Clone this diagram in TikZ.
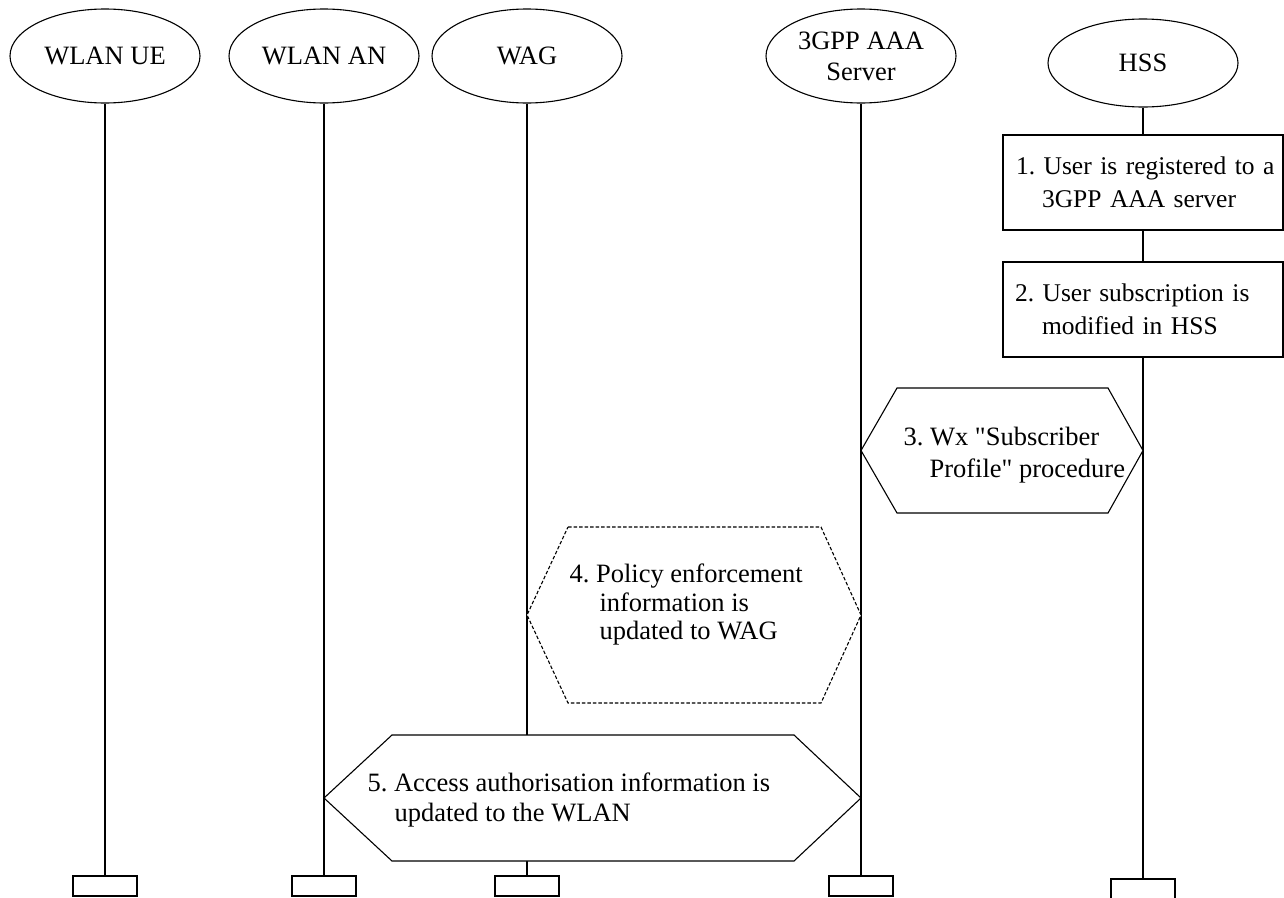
\documentclass[tikz,border=0pt]{standalone}
\usepackage{fontspec}
\setmainfont{Liberation Serif}[Ligatures=TeXOff]
\usetikzlibrary{shapes.geometric}
\frenchspacing
\tikzset{
  entity/.style={draw,ellipse,minimum width=190pt,minimum height=94pt,inner sep=0pt,align=center},
  endbox/.style={draw,fill=white,minimum width=64pt,minimum height=20pt,inner sep=0pt},
  stepbox/.style={draw,fill=white,minimum width=280pt,minimum height=95pt,text width=264pt,inner xsep=8pt,inner ysep=0pt,align=left,font=\fontsize{25.5}{33}\selectfont},
  steptext/.style={anchor=north west,inner sep=0pt,align=left},
  hexa/.style={draw,fill=white},
}
\begin{document}
\begin{tikzpicture}[x=1pt,y=-1pt,line width=1.1pt,font=\fontsize{26.5}{33}\selectfont]
\useasboundingbox (0,0) rectangle (1284,897);
\node[entity] (ue) at (105,56) {WLAN UE};
\node[entity] (an) at (324,56) {WLAN AN};
\node[entity] (wag) at (527,56) {WAG};
\node[entity] (aaa) at (861,56) {3GPP AAA\\[-2pt]Server};
\node[entity,minimum height=88pt] (hss) at (1143,63) {HSS};
\node[endbox] (ueend) at (105,886) {};
\node[endbox] (anend) at (324,886) {};
\node[endbox] (wagend) at (527,886) {};
\node[endbox] (aaaend) at (861,886) {};
\node[endbox] (hssend) at (1143,889) {};
\node[stepbox] (step1) at (1143,182.5) {\mbox{\hspace*{5pt}1. User is registered to a}\\\mbox{\hspace*{31pt}3GPP AAA server}};
\node[stepbox] (step2) at (1143,309.5) {\mbox{\hspace*{4pt}2. User subscription is}\\\mbox{\hspace*{31pt}modified in HSS}};
\draw (ue) -- (ueend);
\draw (an) -- (anend);
\draw (wag) -- (wagend);
\draw (aaa) -- (aaaend);
\draw (hss) -- (step1);
\draw (step1) -- (step2);
\draw (step2) -- (hssend);
\draw[hexa] (897,388) -- (1108,388) -- (1143,450.5) -- (1108,513) -- (897,513) -- (861,450.5) -- cycle;
\draw[hexa,dash pattern=on 3.5pt off 2pt] (568,527) -- (821,527) -- (861,615) -- (821,703) -- (568,703) -- (527,615) -- cycle;
\draw[hexa] (392,735) -- (794,735) -- (861,798) -- (794,861) -- (392,861) -- (324,798) -- cycle;
\node[steptext] (step3) at (903,426) {\rule{0pt}{19pt}3. Wx "Subscriber\\[-1pt]\hspace*{26pt}Profile" procedure};
\node[steptext] (step4) at (569,563) {\rule{0pt}{19pt}4. Policy enforcement\\[-4.5pt]\hspace*{30pt}information is\\[-4.5pt]\hspace*{30pt}updated to WAG};
\node[steptext] (step5) at (367,772) {\rule{0pt}{19pt}5. Access authorisation information is\\[-3pt]\hspace*{27pt}updated to the WLAN};
\end{tikzpicture}
\end{document}
